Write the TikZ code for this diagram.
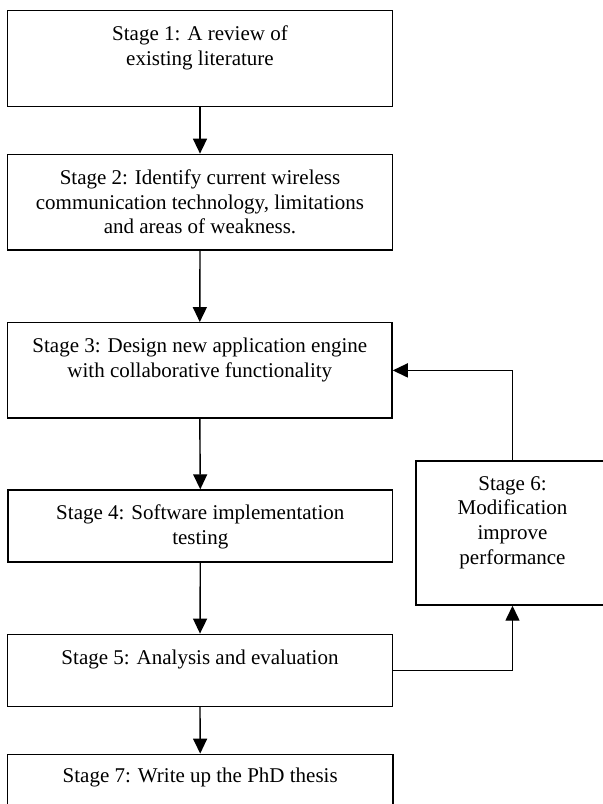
\documentclass[tikz,border=0pt]{standalone}
\usepackage{fontspec}
\setmainfont{Liberation Serif}
\usetikzlibrary{arrows.meta}
\begin{document}
\begin{tikzpicture}[x=1pt,y=-1pt,
  box/.style={draw, line width=1.4pt, rectangle, inner sep=0pt},
  txt/.style={align=center, inner sep=0pt, anchor=base, font=\fontsize{21}{24.6}\selectfont},
  arr/.style={line width=1.4pt, -{Triangle[length=15pt,width=14pt]}}]
\useasboundingbox (0,0) rectangle (603,804);
\clip (0,0) rectangle (603,804);
% boxes
\node[box, minimum width=385.2pt, minimum height=95.6pt] (s1) at (200,58.5) {};
\node[box, minimum width=385.2pt, minimum height=95.7pt] (s2) at (200,202.2) {};
\node[box, minimum width=384.5pt, minimum height=95.3pt] (s3) at (199.8,370.4) {};
\node[box, minimum width=384.7pt, minimum height=72pt] (s4) at (200.3,526) {};
\node[box, minimum width=385.2pt, minimum height=72pt] (s5) at (200,670.3) {};
\node[box, minimum width=385.5pt, minimum height=72pt] (s7) at (200.2,790.3) {};
\node[box, minimum width=193pt, minimum height=144pt] (s6) at (512.5,533) {};
% texts (anchor base = last line's baseline)
\node[txt] (t1) at ([yshift=-55.4pt]s1.north) {Stage 1: A review of\\existing literature};
\node[txt] (t2) at ([yshift=-80pt]s2.north) {Stage 2: Identify current wireless\\communication technology, limitations\\and areas of weakness.};
\node[txt] (t3) at ([yshift=-55.4pt]s3.north) {Stage 3: Design new application engine\\with collaborative functionality};
\node[txt] (t4) at ([yshift=-55.1pt]s4.north) {Stage 4: Software implementation\\testing};
\node[txt] (t5) at ([yshift=-30.5pt]s5.north) {Stage 5: Analysis and evaluation};
\node[txt] (t7) at ([yshift=-29pt]s7.north) {Stage 7: Write up the PhD thesis};
\node[txt] (t6) at ([yshift=-103.8pt]s6.north) {Stage 6:\\Modification\\improve\\performance};
% connectors
\draw[arr] (s1.south) -- (s2.north);
\draw[arr] (s2.south) -- (s3.north);
\draw[arr] (s3.south) -- (s4.north);
\draw[arr] (s4.south) -- (s5.north);
\draw[arr] (s5.south) -- (s7.north);
\draw[arr] (s5.east) -| (s6.south);
\draw[arr] (s6.north) |- (s3.east);
\end{tikzpicture}
\end{document}
